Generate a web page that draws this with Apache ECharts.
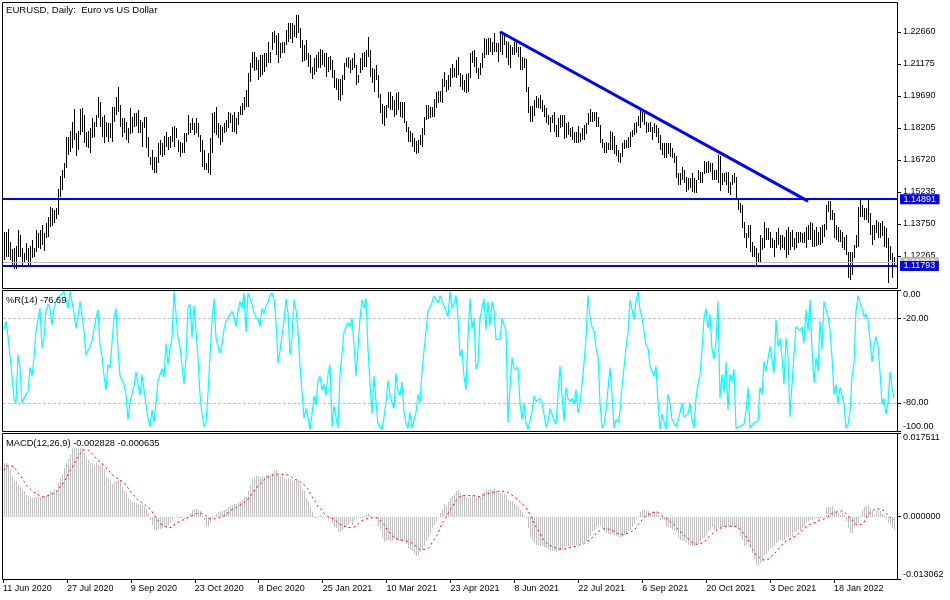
<!DOCTYPE html>
<html><head><meta charset="utf-8">
<style>html,body{margin:0;padding:0;background:#fff}#c{width:950px;height:600px}</style>
<script src="https://cdn.jsdelivr.net/npm/echarts@6/dist/echarts.min.js"></script>
</head><body><div id="c"></div>
<script>
const titleMain='EURUSD, Daily:  Euro vs US Dollar';
const titleR='%R(14) -76.69';
const titleMacd='MACD(12,26,9) -0.002828 -0.000635';
const timeLabels=['11 Jun 2020','27 Jul 2020','9 Sep 2020','23 Oct 2020','8 Dec 2020','25 Jan 2021','10 Mar 2021','23 Apr 2021','8 Jun 2021','22 Jul 2021','6 Sep 2021','20 Oct 2021','3 Dec 2021','18 Jan 2022'];
const priceTicks=[1.12265,1.1375,1.15235,1.1672,1.18205,1.1969,1.21175,1.2266];
const rTicks=[-100,-80,-20,0];
const rLevels=[-20,-80];
const macdTicks=[-0.013062,0,0.017511];
const hLevels=[1.14891,1.11793];
const bidLevel=1.1196;
const trendStart=[248,1.2266];
const trendEnd=[402,1.1480];
const highs=[
1.1335,1.1335,1.1349,1.1292,1.1256,1.1261,1.1272,1.1346,1.1323,1.1261,
1.1238,1.1284,1.1261,1.1272,1.1300,1.1261,1.1346,1.1331,1.1346,1.1369,
1.1331,1.1377,1.1408,1.1454,1.1447,1.1439,1.1447,1.1535,1.1597,1.1625,
1.1655,1.1779,1.1779,1.1807,1.1849,1.1908,1.1795,1.1807,1.1908,1.1911,
1.1880,1.1802,1.1807,1.1818,1.1864,1.1849,1.1880,1.1962,1.1942,1.1872,
1.1880,1.1849,1.1844,1.1841,1.1915,1.1918,1.1965,1.2011,1.1926,1.1864,
1.1864,1.1849,1.1818,1.1911,1.1872,1.1887,1.1887,1.1903,1.1857,1.1849,
1.1872,1.1872,1.1779,1.1686,1.1717,1.1686,1.1686,1.1748,1.1764,1.1748,
1.1782,1.1802,1.1779,1.1782,1.1826,1.1829,1.1818,1.1764,1.1756,1.1748,
1.1795,1.1795,1.1880,1.1841,1.1864,1.1841,1.1864,1.1841,1.1787,1.1764,
1.1717,1.1655,1.1702,1.1771,1.1887,1.1895,1.1918,1.1841,1.1833,1.1826,
1.1841,1.1857,1.1895,1.1887,1.1880,1.1895,1.1864,1.1895,1.1922,1.1934,
1.1965,1.1996,1.2076,1.2120,1.2174,1.2174,1.2151,1.2135,1.2158,1.2158,
1.2166,1.2166,1.2220,1.2174,1.2267,1.2270,1.2251,1.2259,1.2212,1.2220,
1.2220,1.2274,1.2305,1.2305,1.2305,1.2298,1.2344,1.2344,1.2282,1.2228,
1.2205,1.2228,1.2166,1.2158,1.2104,1.2143,1.2158,1.2174,1.2185,1.2181,
1.2169,1.2169,1.2151,1.2154,1.2135,1.2089,1.2050,1.2045,1.2045,1.2065,
1.2120,1.2143,1.2148,1.2135,1.2143,1.2166,1.2112,1.2065,1.2143,1.2169,
1.2174,1.2181,1.2240,1.2181,1.2096,1.2092,1.2112,1.2065,1.1977,1.1931,
1.1922,1.1926,1.1985,1.1985,1.1968,1.1949,1.1983,1.1986,1.1942,1.1942,
1.1942,1.1853,1.1826,1.1807,1.1795,1.1771,1.1761,1.1764,1.1787,1.1818,
1.1872,1.1926,1.1926,1.1918,1.1915,1.1952,1.1988,1.1991,1.1993,1.2045,
1.2081,1.2042,1.2065,1.2096,1.2116,1.2096,1.2135,1.2151,1.2073,1.2065,
1.2042,1.2070,1.2073,1.2169,1.2178,1.2181,1.2151,1.2096,1.2120,1.2166,
1.2236,1.2231,1.2236,1.2236,1.2220,1.2262,1.2215,1.2212,1.2264,1.2251,
1.2251,1.2225,1.2220,1.2205,1.2197,1.2220,1.2220,1.2197,1.2197,1.2148,
1.2143,1.2138,1.2008,1.1922,1.1922,1.1949,1.1968,1.1957,1.1973,1.1949,
1.1926,1.1911,1.1880,1.1872,1.1880,1.1895,1.1833,1.1864,1.1880,1.1880,
1.1880,1.1841,1.1849,1.1818,1.1826,1.1802,1.1802,1.1829,1.1795,1.1818,
1.1833,1.1841,1.1887,1.1906,1.1895,1.1895,1.1895,1.1872,1.1833,1.1767,
1.1748,1.1756,1.1751,1.1806,1.1802,1.1782,1.1741,1.1717,1.1705,1.1748,
1.1764,1.1764,1.1776,1.1802,1.1810,1.1841,1.1849,1.1875,1.1903,1.1895,
1.1887,1.1849,1.1841,1.1849,1.1826,1.1841,1.1833,1.1818,1.1787,1.1748,
1.1748,1.1751,1.1751,1.1748,1.1725,1.1702,1.1689,1.1609,1.1612,1.1640,
1.1625,1.1594,1.1586,1.1589,1.1609,1.1586,1.1578,1.1625,1.1617,1.1617,
1.1668,1.1663,1.1666,1.1655,1.1659,1.1625,1.1625,1.1694,1.1689,1.1609,
1.1612,1.1617,1.1617,1.1570,1.1601,1.1609,1.1594,1.1493,1.1470,1.1462,
1.1385,1.1331,1.1369,1.1369,1.1292,1.1272,1.1261,1.1238,1.1323,1.1307,
1.1385,1.1354,1.1354,1.1338,1.1307,1.1300,1.1338,1.1354,1.1323,1.1323,
1.1315,1.1346,1.1361,1.1338,1.1346,1.1307,1.1338,1.1338,1.1338,1.1331,
1.1338,1.1361,1.1369,1.1385,1.1380,1.1346,1.1361,1.1338,1.1361,1.1369,
1.1374,1.1462,1.1481,1.1481,1.1439,1.1423,1.1369,1.1361,1.1346,1.1338,
1.1315,1.1323,1.1246,1.1246,1.1246,1.1276,1.1323,1.1451,1.1485,1.1462,
1.1447,1.1447,1.1490,1.1423,1.1369,1.1369,1.1392,1.1385,1.1377,1.1389,
1.1365,1.1354,1.1307,1.1272,1.1241,1.1219];
const lows=[
1.1207,1.1222,1.1222,1.1207,1.1184,1.1164,1.1164,1.1222,1.1222,1.1184,
1.1191,1.1207,1.1184,1.1184,1.1215,1.1222,1.1246,1.1261,1.1256,1.1276,
1.1250,1.1307,1.1315,1.1361,1.1365,1.1377,1.1397,1.1416,1.1501,1.1532,
1.1586,1.1632,1.1694,1.1710,1.1725,1.1764,1.1689,1.1717,1.1787,1.1802,
1.1748,1.1733,1.1725,1.1705,1.1771,1.1779,1.1826,1.1864,1.1823,1.1779,
1.1751,1.1779,1.1756,1.1771,1.1756,1.1849,1.1880,1.1895,1.1826,1.1779,
1.1795,1.1764,1.1748,1.1792,1.1795,1.1826,1.1829,1.1795,1.1795,1.1733,
1.1818,1.1725,1.1686,1.1648,1.1625,1.1609,1.1609,1.1659,1.1694,1.1686,
1.1694,1.1733,1.1717,1.1725,1.1756,1.1733,1.1771,1.1710,1.1686,1.1702,
1.1702,1.1756,1.1787,1.1795,1.1810,1.1787,1.1795,1.1779,1.1710,1.1640,
1.1625,1.1625,1.1609,1.1601,1.1702,1.1795,1.1787,1.1771,1.1741,1.1756,
1.1795,1.1802,1.1818,1.1841,1.1802,1.1802,1.1790,1.1833,1.1880,1.1880,
1.1903,1.1918,1.1918,1.2035,1.2096,1.2084,1.2089,1.2042,1.2055,1.2065,
1.2081,1.2104,1.2120,1.2120,1.2181,1.2212,1.2158,1.2120,1.2143,1.2169,
1.2166,1.2205,1.2220,1.2231,1.2212,1.2243,1.2236,1.2259,1.2189,1.2127,
1.2132,1.2135,1.2104,1.2073,1.2047,1.2065,1.2081,1.2096,1.2096,1.2112,
1.2104,1.2055,1.2081,1.2089,1.2050,1.2004,1.1996,1.1949,1.1946,1.1973,
1.2042,1.2104,1.2096,1.2076,1.2089,1.2096,1.2019,1.2027,1.2073,1.2089,
1.2104,1.2104,1.2151,1.2058,1.2027,1.1988,1.2042,1.1957,1.1887,1.1838,
1.1829,1.1864,1.1911,1.1903,1.1903,1.1872,1.1880,1.1903,1.1872,1.1864,
1.1841,1.1802,1.1756,1.1756,1.1733,1.1710,1.1699,1.1705,1.1741,1.1733,
1.1787,1.1857,1.1860,1.1864,1.1872,1.1869,1.1911,1.1934,1.1942,1.1937,
1.2011,1.1988,1.1996,1.2008,1.2050,1.2058,1.2050,1.2065,1.2008,1.1996,
1.1988,1.1983,1.1988,1.2050,1.2120,1.2104,1.2073,1.2047,1.2065,1.2096,
1.2143,1.2158,1.2158,1.2174,1.2158,1.2174,1.2174,1.2127,1.2174,1.2158,
1.2205,1.2143,1.2112,1.2096,1.2158,1.2158,1.2166,1.2151,1.2089,1.2089,
1.2096,1.1988,1.1887,1.1846,1.1849,1.1875,1.1911,1.1911,1.1906,1.1895,
1.1872,1.1841,1.1833,1.1802,1.1841,1.1802,1.1779,1.1779,1.1818,1.1826,
1.1767,1.1771,1.1787,1.1779,1.1764,1.1751,1.1748,1.1748,1.1756,1.1764,
1.1764,1.1792,1.1833,1.1849,1.1849,1.1853,1.1826,1.1826,1.1751,1.1725,
1.1702,1.1702,1.1717,1.1717,1.1717,1.1699,1.1689,1.1660,1.1655,1.1686,
1.1722,1.1725,1.1725,1.1733,1.1779,1.1787,1.1795,1.1829,1.1818,1.1849,
1.1833,1.1795,1.1802,1.1802,1.1764,1.1795,1.1779,1.1748,1.1717,1.1694,
1.1679,1.1679,1.1699,1.1686,1.1679,1.1655,1.1586,1.1555,1.1555,1.1578,
1.1563,1.1524,1.1532,1.1540,1.1524,1.1516,1.1516,1.1578,1.1563,1.1563,
1.1606,1.1609,1.1609,1.1617,1.1578,1.1578,1.1578,1.1563,1.1529,1.1555,
1.1570,1.1555,1.1516,1.1509,1.1555,1.1563,1.1485,1.1439,1.1423,1.1354,
1.1307,1.1261,1.1307,1.1246,1.1222,1.1222,1.1184,1.1191,1.1199,1.1253,
1.1261,1.1300,1.1300,1.1261,1.1261,1.1222,1.1261,1.1276,1.1253,1.1261,
1.1253,1.1215,1.1230,1.1253,1.1269,1.1253,1.1261,1.1284,1.1292,1.1284,
1.1284,1.1261,1.1300,1.1300,1.1269,1.1269,1.1272,1.1276,1.1276,1.1284,
1.1312,1.1346,1.1431,1.1392,1.1392,1.1307,1.1300,1.1292,1.1292,1.1261,
1.1253,1.1230,1.1122,1.1114,1.1137,1.1215,1.1261,1.1269,1.1408,1.1408,
1.1392,1.1392,1.1377,1.1323,1.1276,1.1300,1.1331,1.1307,1.1307,1.1318,
1.1269,1.1261,1.1102,1.1207,1.1122,1.1176];
const percentR=[
-28,-22,-33,-47,-61,-77,-80,-46,-55,-80,
-80,-74,-72,-55,-61,-48,-29,-21,-13,-41,
-34,-15,-10,-13,-25,-13,-8,-6,-4,-3,
-1,-2,-13,-1,-1,-16,-27,-19,-8,-9,
-29,-46,-47,-40,-36,-35,-20,-14,-39,-47,
-61,-71,-53,-55,-56,-20,-13,-43,-61,-64,
-67,-74,-92,-80,-74,-68,-58,-67,-75,-60,
-61,-81,-91,-97,-85,-94,-80,-64,-60,-56,
-62,-38,-53,-42,-34,-1,-17,-34,-40,-53,
-67,-48,-13,-10,-34,-11,-29,-48,-74,-88,
-97,-94,-73,-47,-22,-6,-34,-34,-45,-38,
-28,-22,-20,-20,-15,-19,-26,-15,-8,-13,
-2,-30,-2,-2,-10,-16,-19,-21,-26,-13,
-17,-11,-9,-4,-2,-6,-22,-52,-43,-42,
-22,-6,-16,-46,-34,-7,-14,-29,-54,-72,
-91,-84,-90,-99,-88,-75,-82,-64,
-61,-71,-67,-75,-60,-53,-97,-82,-82,-98,
-60,-59,-30,-29,-23,-26,-20,-39,-61,-42,
-20,-7,-13,-6,-42,-66,-88,-61,-79,-95,
-94,-99,-90,-80,-64,-74,-80,-84,-59,-72,
-75,-65,-86,-95,-98,-87,-98,-98,-87,-74,
-80,-58,-43,-29,-15,-16,-9,-4,-3,-9,
-4,-4,-11,-15,-19,-1,-13,-10,-4,-20,
-47,-42,-61,-71,-33,-6,-27,-20,-56,-52,
-20,-13,-6,-28,-8,-25,-8,-14,-35,-35,
-35,-20,-25,-28,-94,-69,-48,-56,-55,-55,
-80,-92,-80,-94,-99,-98,-86,-75,-79,-78,
-77,-80,-88,-97,-94,-84,-84,-92,-95,-74,
-54,-55,-93,-69,-77,-79,-77,-81,-71,-87,
-81,-67,-52,-34,-4,-19,-26,-29,-41,-47,
-80,-98,-95,-86,-87,-55,-74,-98,-92,-94,
-86,-69,-55,-41,-30,-7,-14,-21,-8,-1,
-14,-20,-29,-39,-41,-54,-55,-61,-54,-80,
-99,-88,-88,-99,-74,-80,-92,-93,-97,-93,
-87,-80,-90,-90,-88,-80,-92,-98,-77,-66,
-60,-42,-20,-13,-27,-17,-42,-49,-36,-8,
-77,-60,-73,-51,-85,-60,-65,-56,-98,-97,
-97,-97,-95,-86,-69,-98,-98,-94,-95,-93,
-69,-74,-51,-58,-58,-40,-49,-59,-21,-40,
-34,-47,-67,-34,-47,-90,-67,-46,-26,-26,
-29,-26,-38,-14,-29,-7,-42,-66,-48,-58,
-22,-42,-8,-7,-19,-28,-48,-74,-67,-81,
-69,-74,-81,-98,-95,-87,-61,-52,-15,-4,
-9,-13,-19,-17,-22,-35,-51,-40,-33,-39,
-58,-81,-77,-88,-80,-58,-69,-76.69];
const macdHist=[
.0113,.0113,.0109,.0097,.0086,.0075,.0074,.0067,.0062,.0056,
.0053,.0046,.0044,.0042,.0039,.0040,.0041,.0041,.0041,.0042,
.0044,.0044,.0048,.0053,.0051,.0058,.0054,.0070,.0081,.0090,
.0102,.0113,.0120,.0132,.0143,.0143,.0143,.0141,.0143,.0143,
.0133,.0122,.0119,.0113,.0112,.0109,.0112,.0109,.0106,.0112,
.0099,.0084,.0079,.0074,.0069,.0072,.0074,.0076,.0074,.0063,
.0054,.0051,.0039,.0035,.0030,.0030,.0028,.0027,.0025,.0025,
.0023,.0016,.0007,-.0008,-.0017,-.0029,-.0031,-.0028,-.0026,-.0024,
-.0021,-.0024,-.0017,-.0014,-.0007,-.0001,.0002,-.0001,-.0003,-.0001,
-.0005,-.0003,0,.0007,.0014,.0016,.0016,.0014,.0011,.0002,
-.0007,-.0021,-.0021,-.0014,-.0001,.0002,.0006,.0009,.0009,.0011,
.0014,.0016,.0020,.0023,.0025,.0027,.0027,.0030,.0030,.0035,
.0039,.0042,.0053,.0067,.0079,.0084,.0086,.0086,.0083,.0086,
.0084,.0088,.0088,.0088,.0091,.0098,.0098,.0088,.0084,.0082,
.0079,.0079,.0081,.0079,.0074,.0077,.0077,.0077,.0067,.0056,
.0053,.0039,.0032,.0020,.0009,-.0001,-.0001,.0002,
.0004,-.0001,-.0001,-.0003,-.0005,-.0001,-.0014,-.0021,-.0024,-.0033,
-.0033,-.0028,-.0022,-.0021,-.0017,-.0012,-.0017,-.0008,-.0003,-.0001,
-.0003,-.0001,.0002,.0004,.0007,.0004,-.0001,-.0001,-.0003,-.0019,
-.0028,-.0045,-.0054,-.0052,-.0049,-.0051,-.0052,-.0047,-.0049,-.0051,
-.0050,-.0050,-.0052,-.0057,-.0066,-.0069,-.0071,-.0078,-.0082,-.0080,
-.0075,-.0069,-.0061,-.0052,-.0043,-.0035,-.0024,-.0017,-.0010,-.0001,
.0007,.0016,.0027,.0023,.0030,.0039,.0044,.0048,.0053,.0056,
.0049,.0046,.0044,.0041,.0039,.0042,.0046,.0044,.0039,.0044,
.0042,.0049,.0051,.0055,.0056,.0058,.0055,.0060,.0053,.0049,
.0049,.0049,.0048,.0046,.0035,.0032,.0032,.0027,.0025,.0021,
.0014,.0009,.0004,-.0005,-.0024,-.0042,-.0052,-.0055,-.0059,-.0059,
-.0061,-.0062,-.0064,-.0066,-.0068,-.0071,-.0073,-.0071,-.0075,-.0071,
-.0069,-.0068,-.0064,-.0064,-.0062,-.0061,-.0059,-.0059,-.0059,-.0057,
-.0057,-.0055,-.0054,-.0050,-.0045,-.0040,-.0031,-.0028,-.0022,-.0019,
-.0019,-.0024,-.0031,-.0035,-.0036,-.0036,-.0036,-.0038,-.0040,-.0042,
-.0043,-.0040,-.0038,-.0036,-.0031,-.0028,-.0021,-.0014,-.0005,.0002,
.0009,.0014,.0014,.0012,.0011,.0007,.0009,.0009,.0011,.0004,
-.0007,-.0005,-.0008,-.0021,-.0022,-.0024,-.0028,-.0031,-.0033,-.0045,
-.0049,-.0051,-.0052,-.0055,-.0059,-.0060,-.0061,-.0062,-.0059,-.0057,
-.0052,-.0045,-.0043,-.0038,-.0031,-.0026,-.0022,-.0028,-.0031,-.0024,
-.0024,-.0021,-.0021,-.0021,-.0021,-.0021,-.0021,-.0022,-.0021,-.0028,
-.0040,-.0049,-.0062,-.0059,-.0052,-.0066,-.0076,-.0089,-.0101,-.0104,
-.0097,-.0094,-.0080,-.0078,-.0073,-.0066,-.0066,-.0062,-.0055,-.0052,
-.0049,-.0050,-.0049,-.0043,-.0042,-.0040,-.0042,-.0033,-.0033,-.0028,
-.0031,-.0024,-.0021,-.0014,-.0010,-.0007,-.0007,-.0005,-.0003,-.0007,
-.0003,-.0001,.0002,.0018,.0020,.0021,.0023,.0014,.0011,.0007,
.0004,.0007,.0004,-.0010,-.0024,-.0035,-.0035,-.0021,-.0014,-.0014,
.0002,.0014,.0020,.0023,.0025,.0018,.0011,.0004,.0011,.0011,
.0011,.0006,.0002,-.0003,-.0014,-.0017,-.0024,-.002828];
const macdSignal=[
.0097,.0106,.0108,.0106,.0107,.0105,.0098,.0092,.0088,.0081,
.0074,.0067,.0062,.0058,.0055,.0051,.0048,.0044,.0044,.0042,
.0041,.0042,.0044,.0044,.0048,.0051,.0051,.0058,.0058,.0065,
.0074,.0079,.0088,.0097,.0102,.0111,.0117,.0125,.0132,.0136,
.0140,.0141,.0140,.0136,.0132,.0127,.0124,.0118,.0116,.0111,
.0106,.0102,.0098,.0095,.0088,.0086,.0082,.0079,.0076,.0073,
.0072,.0065,.0060,.0054,.0049,.0045,.0039,.0037,.0032,.0028,
.0027,.0023,.0020,.0016,.0011,.0004,-.0003,-.0008,-.0014,-.0017,
-.0019,-.0022,-.0024,-.0023,-.0022,-.0017,-.0014,-.0012,-.0010,-.0008,
-.0005,-.0004,-.0003,0,.0002,.0004,.0006,.0007,.0006,.0007,
.0006,.0002,-.0001,-.0005,-.0007,-.0005,-.0005,-.0003,-.0005,-.0001,
0,.0004,.0006,.0013,.0014,.0016,.0019,.0021,.0024,.0027,
.0030,.0032,.0037,.0042,.0048,.0053,.0060,.0063,.0067,.0072,
.0076,.0082,.0083,.0084,.0087,.0088,.0088,.0089,.0089,.0088,
.0088,.0088,.0087,.0086,.0082,.0079,.0077,.0076,.0074,.0070,
.0068,.0063,.0058,.0049,.0042,.0035,.0030,.0020,
.0018,.0014,.0007,.0004,0,-.0001,-.0003,-.0007,-.0009,-.0014,
-.0017,-.0017,-.0019,-.0022,-.0024,-.0023,-.0023,-.0022,-.0018,-.0015,
-.0012,-.0008,-.0007,-.0005,-.0001,-.0003,-.0002,-.0002,-.0003,-.0003,
-.0007,-.0012,-.0017,-.0024,-.0029,-.0035,-.0040,-.0043,-.0046,-.0049,
-.0049,-.0049,-.0050,-.0052,-.0052,-.0054,-.0055,-.0059,-.0062,-.0066,
-.0069,-.0071,-.0069,-.0068,-.0067,-.0062,-.0055,-.0049,-.0043,-.0035,
-.0024,-.0015,-.0007,-.0001,.0007,.0014,.0020,.0027,.0034,.0039,
.0042,.0044,.0044,.0044,.0044,.0044,.0044,.0044,.0042,.0041,
.0041,.0044,.0046,.0047,.0049,.0049,.0050,.0051,.0053,.0053,
.0053,.0053,.0053,.0053,.0051,.0048,.0046,.0042,.0039,.0035,
.0032,.0028,.0023,.0018,.0013,.0004,-.0003,-.0014,-.0022,-.0028,
-.0036,-.0043,-.0049,-.0054,-.0059,-.0060,-.0062,-.0066,-.0066,-.0068,
-.0068,-.0068,-.0068,-.0068,-.0066,-.0066,-.0064,-.0062,-.0062,-.0061,
-.0059,-.0057,-.0057,-.0052,-.0050,-.0049,-.0045,-.0040,-.0035,-.0031,
-.0029,-.0025,-.0025,-.0025,-.0026,-.0028,-.0029,-.0030,-.0033,-.0036,
-.0038,-.0037,-.0037,-.0036,-.0035,-.0033,-.0031,-.0028,-.0024,-.0017,
-.0012,-.0007,-.0001,.0002,.0004,.0007,.0009,.0009,.0009,.0009,
.0007,.0002,-.0001,-.0003,-.0005,-.0010,-.0014,-.0017,-.0022,-.0025,
-.0030,-.0035,-.0038,-.0043,-.0046,-.0050,-.0054,-.0057,-.0058,-.0058,
-.0057,-.0055,-.0052,-.0050,-.0046,-.0040,-.0036,-.0033,-.0031,-.0026,
-.0025,-.0023,-.0021,-.0020,-.0020,-.0020,-.0020,-.0020,-.0021,-.0022,
-.0025,-.0031,-.0035,-.0042,-.0049,-.0059,-.0068,-.0073,-.0080,-.0083,
-.0087,-.0090,-.0091,-.0091,-.0090,-.0089,-.0082,-.0078,-.0074,-.0069,
-.0064,-.0059,-.0054,-.0051,-.0049,-.0046,-.0045,-.0043,-.0040,-.0036,
-.0033,-.0029,-.0026,-.0022,-.0018,-.0017,-.0014,-.0012,-.0012,-.0008,
-.0007,-.0007,-.0005,-.0003,-.0001,.0002,.0007,.0009,.0009,.0012,
.0012,.0012,.0011,.0007,.0002,-.0003,-.0008,-.0012,-.0016,-.0017,
-.0017,-.0017,-.0012,-.0003,.0004,.0007,.0012,.0013,.0016,.0016,
.0016,.0014,.0012,.0009,.0004,0,-.0005,-.000635];

const labelStep=32, barCount=highs.length;
const categories=Array.from({length:barCount+1},(_,i)=>i%labelStep===0?(timeLabels[i/labelStep]||''):'');
const FONT='"Liberation Sans"';
const barData=highs.map((h,i)=>[i,h,lows[i]]);
const histData=macdHist.map((v,i)=>[i,0,v]);
const rectItem=color=>(params,api)=>{
  const i=api.value(0),a=api.coord([i,api.value(1)]),b=api.coord([i,api.value(2)]);
  const y0=Math.round(Math.min(a[1],b[1])),y1=Math.round(Math.max(a[1],b[1]));
  return {type:'rect',shape:{x:Math.round(a[0]),y:y0,width:1,height:Math.max(1,y1-y0)},style:{fill:color}};
};
const yBase=(gridIndex,min,max,ticks,fmt,edgeAlign)=>({
  type:'value',gridIndex,position:'right',min,max,scale:true,
  axisLine:{show:false},
  axisTick:{show:true,length:4,customValues:ticks,lineStyle:{color:'#000'}},
  splitLine:{show:false},
  axisLabel:Object.assign({customValues:ticks,formatter:fmt,margin:6,color:'#000',fontFamily:FONT,fontSize:9},
    edgeAlign?{verticalAlignMaxLabel:'top',verticalAlignMinLabel:'bottom'}:{})
});
const xHidden=gridIndex=>({type:'category',gridIndex,data:categories,boundaryGap:true,axisLine:{show:false},axisTick:{show:false},axisLabel:{show:false},splitLine:{show:false}});
const xTime=gridIndex=>({
  type:'category',gridIndex,data:categories,boundaryGap:true,
  axisLine:{show:false},
  axisTick:{show:true,length:4,alignWithLabel:true,interval:i=>i%labelStep===0,lineStyle:{color:'#000'}},
  splitLine:{show:false},
  axisLabel:{show:true,interval:i=>i%labelStep===0,align:'left',margin:5,color:'#000',fontFamily:FONT,fontSize:9,hideOverlap:false}
});
const boxLabel=(color,text)=>({show:true,position:'end',distance:3,formatter:v=>v.value.toFixed(5),color:text,backgroundColor:color,padding:[1,3.5,0,3.5],fontFamily:FONT,fontSize:9});
const frame=(y,h)=>({type:'rect',silent:true,z:50,shape:{x:2.5,y,width:895,height:h},style:{fill:'none',stroke:'#000',lineWidth:1}});
const textStyle=size=>({fontFamily:FONT,fontSize:size,fontWeight:'normal',color:'#000'});
const chart=echarts.init(document.getElementById('c'),null,{renderer:'canvas'});
chart.setOption({
  animation:false,backgroundColor:'#fff',
  title:[
    {text:titleMain,left:6,top:5.5,padding:0,textStyle:textStyle(9.6)},
    {text:titleR,left:6,top:295.5,padding:0,textStyle:textStyle(9.3)},
    {text:titleMacd,left:6,top:438.5,padding:0,textStyle:textStyle(9.3)}
  ],
  graphic:[frame(2.5,286),frame(290.5,141),frame(433.5,146)],
  grid:[
    {left:3,width:894,top:3,height:285},
    {left:3,width:894,top:290,height:141},
    {left:3,width:894,top:433,height:146},
    {left:1,width:894,top:433,height:146}
  ],
  xAxis:[xHidden(0),xHidden(1),xHidden(2),xTime(3)],
  yAxis:[
    yBase(0,1.10769,1.23996,priceTicks,v=>v.toFixed(5),false),
    yBase(1,-100,0,rTicks,v=>v.toFixed(2),true),
    yBase(2,-0.013062,0.017511,macdTicks,v=>v.toFixed(6),true),
    {type:'value',gridIndex:3,show:false,min:0,max:1}
  ],
  series:[
    {type:'custom',xAxisIndex:0,yAxisIndex:0,data:barData,encode:{x:0,y:[1,2]},renderItem:rectItem('#000'),silent:true,z:2},
    {type:'line',xAxisIndex:0,yAxisIndex:0,data:[],silent:true,z:3,
      markLine:{silent:true,symbol:'none',animation:false,precision:5,z:3,data:[
        {yAxis:bidLevel,lineStyle:{color:'#c0c0c0',width:1,type:'solid'},label:boxLabel('#c0c0c0','#fff')}
      ]}},
    {type:'line',xAxisIndex:0,yAxisIndex:0,data:[],silent:true,z:4,
      markLine:{silent:true,symbol:'none',animation:false,precision:5,z:4,data:hLevels.map(v=>({yAxis:v,lineStyle:{color:'#0000ff',width:2,type:'solid'},label:boxLabel('#0000ff','#fff')}))}},
    {type:'line',xAxisIndex:0,yAxisIndex:0,data:[trendStart,trendEnd],symbol:'none',silent:true,z:4,lineStyle:{color:'#0000ff',width:3}},
    {type:'line',xAxisIndex:1,yAxisIndex:1,data:percentR,symbol:'none',silent:true,z:3,clip:true,lineStyle:{color:'#00ffff',width:1.2},
      markLine:{silent:true,symbol:'none',animation:false,z:2,label:{show:false},lineStyle:{color:'#c0c0c0',width:1,type:[3,2]},data:rLevels.map(v=>({yAxis:v}))}},
    {type:'custom',xAxisIndex:2,yAxisIndex:2,data:histData,encode:{x:0,y:[1,2]},renderItem:rectItem('#c0c0c0'),silent:true,z:2},
    {type:'line',xAxisIndex:2,yAxisIndex:2,data:macdSignal,symbol:'none',silent:true,z:3,lineStyle:{color:'#ff0000',width:1,type:[2,3]}}
  ]
});
</script></body></html>
